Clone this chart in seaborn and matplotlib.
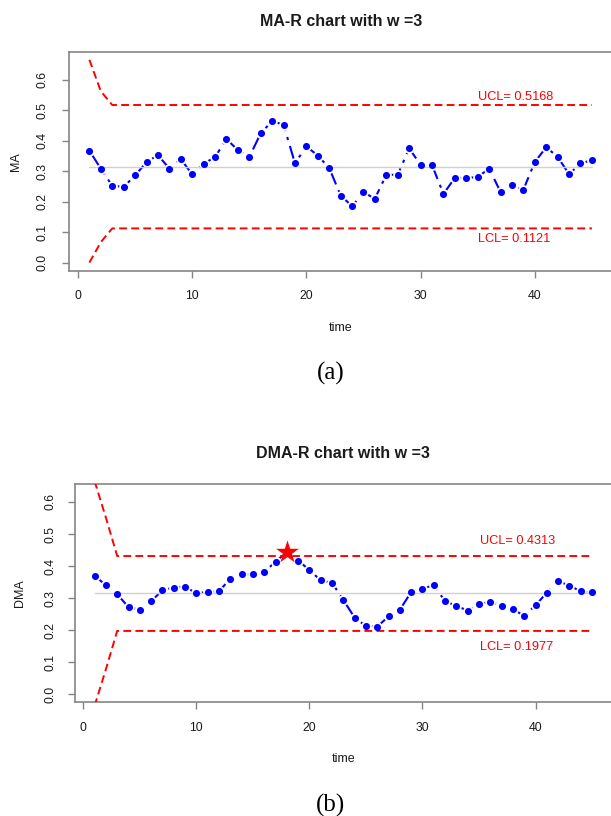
import numpy as np
import pandas as pd
import matplotlib
matplotlib.use("Agg")
import matplotlib.pyplot as plt
import seaborn as sns
from matplotlib.ticker import FormatStrFormatter

# -----------------------------
# Data
# -----------------------------
time = list(range(1, 46))

ma = [0.367, 0.308, 0.252, 0.248, 0.286, 0.329, 0.353, 0.308, 0.340, 0.289,
      0.324, 0.346, 0.405, 0.369, 0.346, 0.424, 0.464, 0.452, 0.326, 0.381,
      0.351, 0.310, 0.220, 0.185, 0.230, 0.210, 0.288, 0.288, 0.375, 0.320,
      0.320, 0.225, 0.278, 0.277, 0.281, 0.308, 0.232, 0.253, 0.239, 0.330,
      0.378, 0.347, 0.290, 0.325, 0.336]

dma = [0.369, 0.341, 0.312, 0.272, 0.264, 0.290, 0.325, 0.333, 0.336, 0.315,
       0.319, 0.321, 0.361, 0.374, 0.374, 0.382, 0.413, 0.445, 0.417, 0.388,
       0.355, 0.348, 0.294, 0.239, 0.213, 0.211, 0.243, 0.264, 0.319, 0.329,
       0.341, 0.290, 0.276, 0.261, 0.281, 0.289, 0.276, 0.266, 0.244, 0.278,
       0.317, 0.353, 0.339, 0.321, 0.318]

ucl_ma = [0.665, 0.562] + [0.5168] * 43
lcl_ma = [0.0, 0.067] + [0.1121] * 43
ucl_dma = [0.665, 0.551] + [0.4313] * 43
lcl_dma = [-0.036, 0.078] + [0.1977] * 43
cl_ma = 0.3145
cl_dma = 0.3145

ucl_ma_label = "UCL= 0.5168"
lcl_ma_label = "LCL= 0.1121"
ucl_dma_label = "UCL= 0.4313"
lcl_dma_label = "LCL= 0.1977"
signal_time = 18

sns.set_theme(style="ticks")
plt.rcParams['font.family'] = ['Liberation Sans', 'DejaVu Sans']

W, H = 611, 816
fig = plt.figure(figsize=(W / 100, H / 100), dpi=100)

GREY = "#858585"
TXT = "#1a1a1a"


def px_axes(left, top, bottom, right=612):
    return fig.add_axes([left / W, 1 - bottom / H, (right - left) / W, (bottom - top) / H])


def control_panel(ax, df, ycol, ucl, lcl, cl, ylim, ulab, llab, uy, ly,
                  title, caption, ytick_pad, ylab_x):
    # data line (drawn first so the white halos cut gaps like R type="b")
    sns.lineplot(data=df, x="time", y=ycol, ax=ax, color="blue", lw=1.5,
                 linestyle=(0, (9, 3, 1.5, 3)), zorder=2)
    sns.scatterplot(data=df, x="time", y=ycol, ax=ax, color="white", s=60,
                    linewidth=0, zorder=3)
    # limits
    lim = pd.DataFrame({"time": time, "ucl": ucl, "lcl": lcl})
    sns.lineplot(data=lim, x="time", y="ucl", ax=ax, color="red", lw=1.4,
                 linestyle=(0, (4, 2.2)), zorder=3.5)
    sns.lineplot(data=lim, x="time", y="lcl", ax=ax, color="red", lw=1.4,
                 linestyle=(0, (4, 2.2)), zorder=3.5)
    ax.plot([time[0], time[-1]], [cl, cl], color="#d0d0d0", lw=1, zorder=3.5)
    sns.scatterplot(data=df, x="time", y=ycol, ax=ax, color="blue", s=26,
                    linewidth=0, zorder=4)

    ax.text(35.05, uy, ulab, color="red", fontsize=9.2, ha="left", va="center")
    ax.text(35.05, ly, llab, color="red", fontsize=9.2, ha="left", va="center")

    ax.set_xlim(-0.76, 46.76)
    ax.set_ylim(*ylim)
    ax.set_xticks([0, 10, 20, 30, 40])
    ax.set_yticks([0.0, 0.1, 0.2, 0.3, 0.4, 0.5, 0.6])
    ax.yaxis.set_major_formatter(FormatStrFormatter('%.1f'))
    for s in ax.spines.values():
        s.set_color(GREY)
        s.set_linewidth(1.2)
    ax.tick_params(axis="both", colors=GREY, labelcolor=TXT, length=5,
                   width=1, labelsize=8.8, direction="out")
    ax.tick_params(axis="x", pad=9)
    ax.tick_params(axis="y", pad=ytick_pad, labelrotation=90)
    for lbl in ax.get_yticklabels():
        lbl.set_va("center")

    ax.set_xlabel("time", fontsize=9, color=TXT, va="center")
    ax.xaxis.set_label_coords(0.5, -0.26)
    ax.set_ylabel(ycol, fontsize=9, color=TXT, va="center")
    ax.yaxis.set_label_coords(ylab_x, 0.5)

    bbox = ax.get_position()
    fig.text((bbox.x0 + bbox.x1) / 2, bbox.y1 + 30.7 / H, title,
             fontsize=11.5, fontweight="bold", color=TXT, ha="center", va="center")
    fig.text(0.5414, bbox.y0 - 102.7 / H, caption, fontsize=18,
             family="Liberation Serif", ha="center", va="center", color="black")


# MA-R chart
ax1 = px_axes(69.3, 51.7, 270.7)
df_ma = pd.DataFrame({"time": time, "MA": ma})
control_panel(ax1, df_ma, "MA", ucl_ma, lcl_ma, cl_ma, (-0.0266, 0.6916),
              ucl_ma_label, lcl_ma_label, 0.543, 0.076,
              "MA-R chart with w =3", "(a)", 10, -0.098)

# DMA-R chart
ax2 = px_axes(74.7, 483.7, 702.3)
df_dma = pd.DataFrame({"time": time, "DMA": dma})
control_panel(ax2, df_dma, "DMA", ucl_dma, lcl_dma, cl_dma, (-0.025, 0.657),
              ucl_dma_label, lcl_dma_label, 0.479, 0.146,
              "DMA-R chart with w =3", "(b)", 8.4, -0.102)

# out-of-control point
sig = pd.DataFrame({"time": [signal_time], "DMA": [dma[signal_time - 1]]})
sns.scatterplot(data=sig, x="time", y="DMA", ax=ax2, marker="*", color="red",
                s=300, linewidth=0, zorder=5)

fig.savefig("out.png", dpi=100)
